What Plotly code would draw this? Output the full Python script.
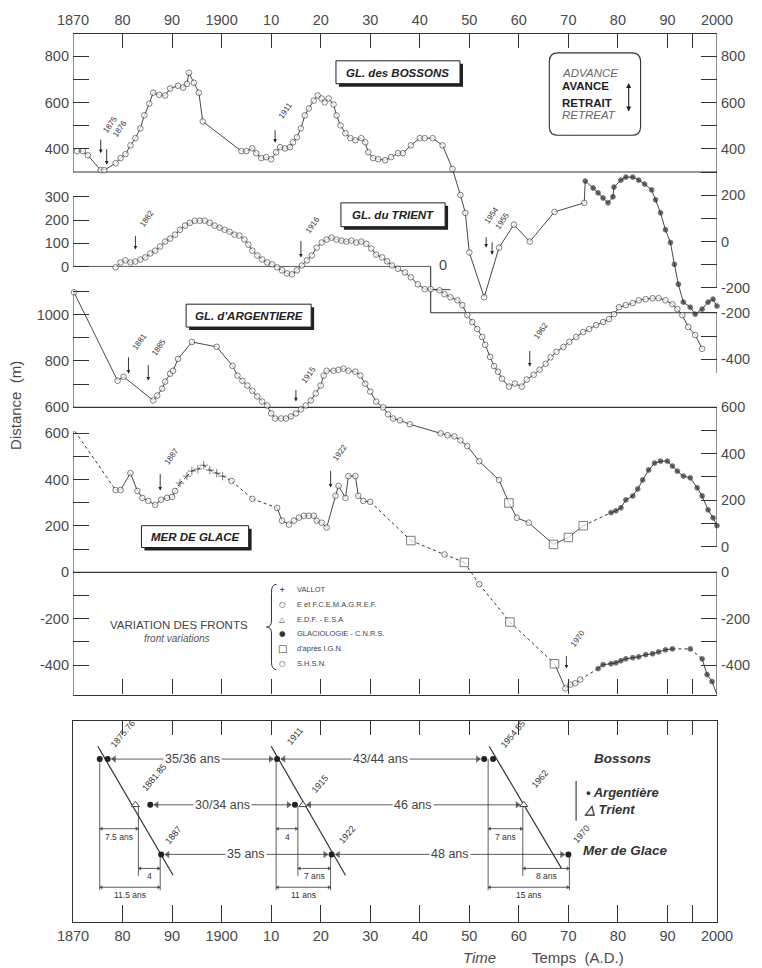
import numpy as np
import plotly.graph_objects as go

# ============================ DATA ============================
YEAR_TICKS = [1870, 1880, 1890, 1900, 1910, 1920, 1930, 1940, 1950, 1960, 1970, 1980, 1990, 2000, 1995]
YEAR_TICK_TEXT = ["1870", "80", "90", "1900", "10", "20", "30", "40", "50", "60", "70", "80", "90", "2000", ""]

# (year, front position in m)
BOSSONS = [(1870.8, 390), (1872.0, 390), (1873.0, 372), (1875.6, 308), (1876.3, 308), (1878.6, 338),
           (1879.6, 360), (1880.6, 377), (1881.6, 415), (1882.6, 446), (1883.6, 488), (1884.4, 544),
           (1885.4, 595), (1886.2, 642), (1887.4, 633), (1888.6, 630), (1889.6, 660), (1891.2, 672),
           (1892.2, 664), (1893.0, 680), (1893.4, 728), (1894.4, 685), (1895.4, 642), (1896.2, 518),
           (1904.0, 390), (1905.0, 390), (1906.2, 402), (1907.0, 381), (1908.0, 360), (1909.0, 364),
           (1910.0, 355), (1911.0, 385), (1911.8, 407), (1912.8, 402), (1913.8, 407), (1914.4, 428),
           (1915.2, 450), (1916.0, 488), (1916.8, 544), (1917.6, 574), (1918.6, 608), (1919.4, 630),
           (1920.2, 617), (1920.8, 600), (1921.6, 617), (1922.6, 591), (1923.2, 544), (1924.0, 501),
           (1925.0, 467), (1926.0, 446), (1927.0, 437), (1928.2, 446), (1929.0, 428), (1929.6, 385),
           (1930.6, 360), (1931.6, 355), (1933.0, 351), (1934.2, 364), (1935.6, 381), (1936.6, 381),
           (1938.2, 415), (1940.0, 446), (1941.0, 446), (1942.6, 446), (1944.6, 415), (1946.6, 313),
           (1948.2, 201), (1949.2, 124), (1950.0, -47), (1953.0, -240), (1956.0, -26), (1959.0, 73),
           (1962.2, 0), (1967.2, 128), (1973.2, 167), (1973.4, 261), (1975.0, 231), (1976.0, 210),
           (1977.0, 188), (1978.0, 167), (1979.0, 193), (1979.2, 235), (1980.6, 265), (1981.6, 278),
           (1983.0, 278), (1984.2, 265), (1985.4, 248), (1986.8, 223), (1987.6, 180), (1988.6, 124),
           (1989.6, 51), (1990.6, -4), (1991.4, -98), (1992.2, -184), (1993.2, -261), (1994.6, -283),
           (1995.6, -313), (1997.0, -291), (1998.2, -261), (1999.2, -248), (2000.0, -278)]

TRIENT = [(1878.6, -4), (1879.6, 17), (1880.6, 26), (1881.6, 17), (1882.6, 21), (1883.6, 30),
          (1884.6, 39), (1885.6, 56), (1886.6, 68), (1887.6, 86), (1888.6, 107), (1889.6, 120),
          (1890.6, 137), (1891.6, 158), (1892.6, 176), (1893.6, 188), (1894.6, 197), (1895.6, 197),
          (1896.6, 197), (1897.6, 188), (1898.6, 176), (1899.6, 167), (1900.6, 158), (1901.6, 150),
          (1902.6, 137), (1903.6, 133), (1904.6, 116), (1905.4, 94), (1906.2, 68), (1907.2, 47),
          (1908.2, 30), (1909.2, 17), (1910.2, 9), (1911.2, -4), (1912.2, -17), (1913.2, -30),
          (1914.2, -34), (1915.2, -17), (1916.2, 4), (1917.2, 26), (1918.2, 47), (1919.2, 81),
          (1920.2, 103), (1921.2, 116), (1922.2, 124), (1923.2, 116), (1924.2, 111), (1925.2, 107),
          (1926.2, 111), (1927.2, 103), (1928.2, 107), (1929.2, 98), (1930.2, 77), (1931.2, 51),
          (1932.4, 39), (1933.4, 22), (1934.4, 4), (1935.6, -10), (1937.0, -26), (1938.2, -47),
          (1939.6, -77), (1941.0, -98), (1942.2, -98), (1944.0, -103), (1945.0, -120), (1946.2, -133),
          (1947.6, -146), (1948.6, -167), (1949.6, -210), (1950.6, -240), (1951.6, -270), (1952.6, -304),
          (1953.2, -338), (1954.2, -390), (1955.0, -430), (1955.8, -454), (1956.6, -484), (1958.0, -518),
          (1959.2, -505), (1960.6, -518), (1961.6, -488), (1963.0, -467), (1964.2, -445), (1965.4, -420),
          (1966.4, -392), (1967.6, -368), (1969.0, -347), (1970.2, -325), (1971.6, -304), (1973.0, -283),
          (1974.2, -270), (1975.6, -253), (1977.0, -240), (1978.2, -227), (1979.2, -206), (1980.2, -176),
          (1981.6, -167), (1983.0, -158), (1984.2, -146), (1985.6, -141), (1987.0, -137), (1988.2, -137),
          (1989.6, -146), (1991.0, -163), (1992.0, -184), (1993.0, -210), (1994.2, -261), (1995.6, -296),
          (1997.0, -355)]

ARGENTIERE = [(1870.2, 1096), (1879.0, 715), (1880.2, 732), (1886.2, 630), (1887.0, 651), (1888.0, 681),
              (1888.6, 711), (1889.6, 745), (1890.2, 758), (1891.2, 809), (1894.0, 882), (1899.0, 861),
              (1902.2, 779), (1903.2, 737), (1904.2, 715), (1905.2, 694), (1906.2, 672), (1907.2, 647),
              (1908.2, 625), (1909.2, 608), (1910.0, 574), (1910.8, 552), (1912.0, 552), (1913.0, 552),
              (1914.0, 561), (1915.0, 574), (1916.0, 591), (1917.0, 608), (1918.0, 630), (1919.0, 660),
              (1920.0, 694), (1920.6, 737), (1921.2, 758), (1922.6, 758), (1923.6, 762), (1924.6, 767),
              (1925.6, 758), (1927.0, 754), (1928.0, 737), (1929.0, 702), (1930.0, 668), (1931.2, 625),
              (1932.6, 600), (1933.6, 570), (1934.6, 552), (1936.0, 544), (1938.0, 527), (1944.2, 488),
              (1945.6, 480), (1947.0, 475), (1948.2, 458), (1949.6, 433), (1952.0, 368), (1956.0, 287),
              (1958.0, 188), (1959.6, 124), (1962.0, 103), (1967.0, 9), (1970.0, 39), (1973.0, 90),
              (1978.6, 146), (1979.6, 154), (1980.6, 167), (1981.6, 201), (1983.0, 218), (1984.0, 248),
              (1985.0, 287), (1986.2, 330), (1987.4, 360), (1988.6, 368), (1990.0, 368), (1991.0, 347),
              (1992.0, 325), (1993.2, 304), (1994.6, 296), (1996.0, 253), (1997.0, 218), (1998.2, 158),
              (1999.2, 124), (2000.0, 90)]

MER_DE_GLACE = [(1870.4, 608), (1878.6, 355), (1879.6, 355), (1881.6, 428), (1883.0, 351), (1884.0, 321),
                (1885.2, 308), (1886.6, 291), (1887.8, 313), (1889.0, 321), (1890.0, 325), (1890.6, 351),
                (1891.6, 385), (1893.0, 415), (1894.0, 437), (1895.2, 445), (1896.4, 462), (1897.6, 441),
                (1899.0, 428), (1900.2, 415), (1902.0, 394), (1906.2, 317), (1911.2, 278), (1912.2, 223),
                (1913.6, 206), (1914.6, 223), (1915.6, 236), (1916.6, 244), (1917.6, 244), (1918.6, 244),
                (1919.2, 223), (1920.2, 214), (1921.2, 193), (1923.0, 330), (1923.6, 373), (1925.0, 321),
                (1925.6, 415), (1927.0, 415), (1927.6, 330), (1928.6, 308), (1930.0, 304), (1938.2, 137),
                (1945.0, 77), (1949.0, 43), (1952.0, -51), (1958.2, -214), (1967.2, -394), (1969.4, -500),
                (1970.4, -484), (1971.4, -478), (1972.4, -462), (1976.0, -415), (1977.0, -398),
                (1978.6, -394), (1979.6, -390), (1980.6, -381), (1981.6, -373), (1983.0, -368),
                (1984.2, -364), (1985.6, -355), (1987.0, -351), (1988.2, -343), (1989.6, -334),
                (1991.0, -330), (1994.6, -330), (1997.0, -373), (1998.0, -441), (1999.0, -471),
                (2000.0, -527)]

# measurement sources
CNRS_FROM = {"B": 1973.4, "T": 9999, "A": 1978.6, "M": 1976.0}
IGN_YEARS = {"B": [], "T": [], "A": [1958.0, 1967.0, 1970.0, 1973.0], "M": [1938.2, 1949.0, 1958.2, 1967.2]}
VALLOT_YEARS = {"B": [], "T": [], "A": [],
                "M": [1891.6, 1893.0, 1894.0, 1895.2, 1896.4, 1897.6, 1899.0, 1900.2]}
UNMARKED_YEARS = {"B": [], "T": [], "A": [], "M": [1870.4]}

# arrows with dates in the main panel: (glacier, year, label)
EVENTS = [("B", 1875.6, "1875"), ("B", 1876.8, "1876"), ("B", 1910.8, "1911"),
          ("T", 1882.6, "1882"), ("T", 1916.0, "1916"),
          ("B", 1953.4, "1954"), ("B", 1954.6, "1955"),
          ("A", 1881.2, "1881"), ("A", 1885.2, "1885"), ("A", 1915.0, "1915"),
          ("T", 1962.2, "1962"),
          ("M", 1887.6, "1887"), ("M", 1922.0, "1922"), ("M", 1969.6, "1970")]

LEGEND_SOURCES = [("+", "VALLOT"), ("○", "E et F.C.E.M.A.G.R.E.F."), ("△", "E.D.F. - E.S.A"),
                  ("●", "GLACIOLOGIE - C.N.R.S."), ("□", "d'après I.G.N."), ("○", "S.H.S.N.")]

# lower panel: minima of the fronts and time lags
BOSSONS_MIN = [[1875.4, 1877.0], [1911.2], [1953.0, 1954.8]]
BOSSONS_MIN_LABEL = ["1875.76", "1911", "1954.55"]
ARGENTIERE_MIN = [1885.6, 1914.8]
TRIENT_MIN = [1882.6, 1916.4, 1961.0]
MID_MIN_LABEL = ["1881.85", "1915", "1962"]
MDG_MIN = [1887.8, 1922.2, 1970.0]
MDG_MIN_LABEL = ["1887", "1922", "1970"]
INTERVAL_B = ["35/36 ans", "43/44 ans"]
INTERVAL_AT = ["30/34 ans", "46 ans"]
INTERVAL_M = ["35 ans", "48 ans"]
LAG_REF_B = [1875.4, 1911.0, 1953.8]
LAG_REF_AT = [1883.2, 1915.4, 1960.8]
LAG_REF_M = [1887.6, 1922.0, 1970.2]
LAG_1 = ["7.5 ans", "4", "7 ans"]
LAG_2 = ["4", "7 ans", "8 ans"]
LAG_TOTAL = ["11.5 ans", "11 ans", "15 ans"]
TREND_START = [1875.0, 1910.0, 1954.0]
TREND_END = [1890.2, 1925.0, 1968.6]

# ============================ LAYOUT CONSTANTS ============================
W, H = 762, 968
ML, MR, MT, MB = 73, 40, 28, 46
PW, PH = W - ML - MR, H - MT - MB
FONT = "Liberation Sans, Arial, Helvetica, sans-serif"
INK = "#333333"
TXT = "#4a4a4a"


def fx(px):
    return (px - ML) / PW


def fy(py):
    return (H - MB - py) / PH


MAIN_TOP_PX, MAIN_BOT_PX, LOW_TOP_PX = 28, 693, 720
MAIN_DOMAIN = [fy(MAIN_BOT_PX), 1.0]
LOW_DOMAIN = [0.0, fy(LOW_TOP_PX)]
SCALE = 0.2335  # px per metre
ZERO_PX = {"B": 237, "T": 262, "A": 544, "M": 570}
AX = {"B": ("y", "y2"), "T": ("y3", "y4"), "A": ("y5", "y6"), "M": ("y7", "y8")}
SERIES = {"B": BOSSONS, "T": TRIENT, "A": ARGENTIERE, "M": MER_DE_GLACE}


def yrange(g):
    p0 = ZERO_PX[g]
    return [(p0 - MAIN_BOT_PX) / SCALE, (p0 - MAIN_TOP_PX) / SCALE]


MARK = {"C": ("circle", 5.6, "white"), "G": ("circle", 4.8, "#2a2a2a"),
        "I": ("square", 8.5, "white"), "V": ("cross-thin", 6, "#2a2a2a")}


def has(lst, y):
    return any(abs(y - v) < 1e-6 for v in lst)


def source(g, y):
    if has(UNMARKED_YEARS[g], y):
        return "N"
    if has(IGN_YEARS[g], y):
        return "I"
    if has(VALLOT_YEARS[g], y):
        return "V"
    if y >= CNRS_FROM[g] - 1e-6:
        return "G"
    return "C"


fig = go.Figure()

# ---------------- main panel series ----------------
for g, pts in SERIES.items():
    yrs = [p[0] for p in pts]
    vals = [p[1] for p in pts]
    src = [source(g, y) for y in yrs]
    sx, sy, dx, dy = [], [], [], []
    for i in range(len(yrs) - 1):
        gap = yrs[i + 1] - yrs[i]
        dotted = ("V" in (src[i], src[i + 1])) or \
                 (g == "M" and gap > 2.3) or \
                 (gap > 2.3 and src[i + 1] == "G" and src[i] != "G")
        tx, ty = (dx, dy) if dotted else (sx, sy)
        tx += [yrs[i], yrs[i + 1], None]
        ty += [vals[i], vals[i + 1], None]
    fig.add_trace(go.Scatter(x=sx, y=sy, mode="lines", line=dict(color=INK, width=0.9),
                             xaxis="x", yaxis=AX[g][0], hoverinfo="skip"))
    fig.add_trace(go.Scatter(x=dx, y=dy, mode="lines", line=dict(color=INK, width=1.0, dash="dot"),
                             xaxis="x", yaxis=AX[g][0], hoverinfo="skip"))
    mk = [(y, v, s) for y, v, s in zip(yrs, vals, src) if s != "N"]
    fig.add_trace(go.Scatter(
        x=[m[0] for m in mk], y=[m[1] for m in mk], mode="markers", cliponaxis=False,
        marker=dict(symbol=[MARK[m[2]][0] for m in mk], size=[MARK[m[2]][1] for m in mk],
                    color=[MARK[m[2]][2] for m in mk], line=dict(color=INK, width=0.9)),
        xaxis="x", yaxis=AX[g][0], hoverinfo="skip"))

# dummy traces so that every overlaying axis exists
for xa, ya in [("x", "y2"), ("x", "y4"), ("x", "y6"), ("x", "y8"), ("x2", "y"), ("x4", "y9")]:
    fig.add_trace(go.Scatter(x=[], y=[], xaxis=xa, yaxis=ya, hoverinfo="skip"))

# ---------------- lower panel ----------------
ROW_B, ROW_AT, ROW_M = 8.12, 5.84, 3.37
DIM1, DIM2, DIM3 = 4.65, 2.67, 1.73
VBOT_OUT, VBOT_MID = 1.58, 2.3
TREND_TOP, TREND_BOT = 8.76, [2.33, 2.33, 2.67]

thin_x, thin_y = [], []
trend_x, trend_y = [], []
for gi in range(3):
    trend_x += [TREND_START[gi], TREND_END[gi], None]
    trend_y += [TREND_TOP, TREND_BOT[gi], None]
    for xv, y0, y1 in [(LAG_REF_B[gi], ROW_B, VBOT_OUT), (LAG_REF_AT[gi], ROW_AT - 0.1, VBOT_MID),
                       (LAG_REF_M[gi], ROW_M, VBOT_OUT)]:
        thin_x += [xv, xv, None]
        thin_y += [y0, y1, None]

dims = []
for gi in range(3):
    dims.append((LAG_REF_B[gi], LAG_REF_AT[gi], DIM1, LAG_1[gi]))
    dims.append((LAG_REF_AT[gi], LAG_REF_M[gi], DIM2, LAG_2[gi]))
    dims.append((LAG_REF_B[gi], LAG_REF_M[gi], DIM3, LAG_TOTAL[gi]))

intervals = []
mid_groups = [[TRIENT_MIN[0], ARGENTIERE_MIN[0]], [ARGENTIERE_MIN[1], TRIENT_MIN[1]], [TRIENT_MIN[2]]]
for row_y, groups, labels in [(ROW_B, BOSSONS_MIN, INTERVAL_B), (ROW_AT, mid_groups, INTERVAL_AT),
                              (ROW_M, [[v] for v in MDG_MIN], INTERVAL_M)]:
    for gi in range(2):
        intervals.append((max(groups[gi]) + 0.8, min(groups[gi + 1]) - 0.8, row_y, labels[gi]))

for (a, b, yv, _) in dims:
    thin_x += [a, b, None]
    thin_y += [yv, yv, None]
for (a, b, yv, _) in intervals:
    thin_x += [a, b, None]
    thin_y += [yv, yv, None]

fig.add_trace(go.Scatter(x=thin_x, y=thin_y, mode="lines", line=dict(color=INK, width=0.8),
                         xaxis="x3", yaxis="y9", hoverinfo="skip"))
fig.add_trace(go.Scatter(x=trend_x, y=trend_y, mode="lines", line=dict(color=INK, width=1.2),
                         xaxis="x3", yaxis="y9", hoverinfo="skip"))
# arrowheads
ah_x, ah_y, ah_s, ah_z = [], [], [], []
for (a, b, yv, _) in dims:
    ah_x += [a + 0.35, b - 0.35]; ah_y += [yv, yv]; ah_s += ["triangle-left", "triangle-right"]; ah_z += [4, 4]
for (a, b, yv, _) in intervals:
    ah_x += [a + 0.5, b - 0.5]; ah_y += [yv, yv]; ah_s += ["triangle-left", "triangle-right"]; ah_z += [6.5, 6.5]
fig.add_trace(go.Scatter(x=ah_x, y=ah_y, mode="markers", xaxis="x3", yaxis="y9", hoverinfo="skip",
                         marker=dict(symbol=ah_s, size=ah_z, color=INK, line=dict(width=0))))
# minima markers
dot_x = [v for grp in BOSSONS_MIN for v in grp] + ARGENTIERE_MIN + MDG_MIN
dot_y = [ROW_B] * sum(len(g_) for g_ in BOSSONS_MIN) + [ROW_AT] * len(ARGENTIERE_MIN) + [ROW_M] * len(MDG_MIN)
fig.add_trace(go.Scatter(x=dot_x, y=dot_y, mode="markers", xaxis="x3", yaxis="y9", hoverinfo="skip",
                         marker=dict(symbol="circle", size=6, color="#222")))
fig.add_trace(go.Scatter(x=TRIENT_MIN, y=[ROW_AT] * len(TRIENT_MIN), mode="markers", xaxis="x3",
                         yaxis="y9", hoverinfo="skip",
                         marker=dict(symbol="triangle-up", size=7, color="white", line=dict(color=INK, width=0.9))))

# ---------------- shapes ----------------
shapes = []


def seg(x0, x1, y0, y1, yref, w=1.1, xref="x"):
    shapes.append(dict(type="line", xref=xref, yref=yref, x0=x0, x1=x1, y0=y0, y1=y1,
                       line=dict(color=INK, width=w), layer="below"))


rB, rT, rA, rM = yrange("B"), yrange("T"), yrange("A"), yrange("M")
TRIENT_STEP_YEAR = 1942.2
seg(1870, 1870, 300, rB[1], "y")
seg(1870, 1870, 0, 300, "y3")
seg(1870, 1870, 600, 1100, "y5")
seg(1870, 1870, rM[0], 610, "y7")
seg(2000, 2000, -200, rB[1], "y")
seg(2000, 2000, -460, -200, "y3")
seg(2000, 2000, 0, 600, "y5")
seg(2000, 2000, rM[0], 0, "y7")
seg(1870, 2000, 300, 300, "y")
seg(1870, 2000, 600, 600, "y5")
seg(1870, 2000, 0, 0, "y7")
seg(1870, TRIENT_STEP_YEAR, 0, 0, "y3", w=0.8)
seg(TRIENT_STEP_YEAR, TRIENT_STEP_YEAR, -200, 0, "y3")
seg(TRIENT_STEP_YEAR, 2000, -200, -200, "y3")
seg(TRIENT_STEP_YEAR, TRIENT_STEP_YEAR + 4, -100, -100, "y3", w=0.9)


def prect(x0, y0, x1, y1, fill, line_w):
    shapes.append(dict(type="rect", xref="paper", yref="paper", x0=fx(x0), x1=fx(x1), y0=fy(y1), y1=fy(y0),
                       fillcolor=fill, line=dict(color="#222", width=line_w), layer="above"))


NAME_BOXES = [("GL. des BOSSONS", 338, 55, 463, 78), ("GL. du TRIENT", 343, 198, 448, 222),
              ("GL. d'ARGENTIERE", 187, 300, 313, 323), ("MER DE GLACE", 142, 523, 250, 545)]
for _, x0, y0, x1, y1 in NAME_BOXES:
    prect(x0 + 3, y0 + 3, x1 + 3, y1 + 3, "#222", 0)
    prect(x0, y0, x1, y1, "white", 1)


def rounded_path(x0, y0, x1, y1, r):
    P = lambda x, y: f"{fx(x):.5f},{fy(y):.5f}"
    return (f"M {P(x0 + r, y0)} L {P(x1 - r, y0)} Q {P(x1, y0)} {P(x1, y0 + r)} "
            f"L {P(x1, y1 - r)} Q {P(x1, y1)} {P(x1 - r, y1)} L {P(x0 + r, y1)} "
            f"Q {P(x0, y1)} {P(x0, y1 - r)} L {P(x0, y0 + r)} Q {P(x0, y0)} {P(x0 + r, y0)} Z")


shapes.append(dict(type="path", xref="paper", yref="paper", path=rounded_path(553, 47, 645, 130, 9),
                   line=dict(color=INK, width=1.1)))
P = lambda x, y: f"{fx(x):.5f},{fy(y):.5f}"
brace = (f"M {P(278, 582)} Q {P(273, 582)} {P(273, 590)} L {P(273, 619)} Q {P(273, 625)} {P(268, 625)} "
         f"Q {P(273, 625)} {P(273, 631)} L {P(273, 660)} Q {P(273, 668)} {P(278, 668)}")
shapes.append(dict(type="path", xref="paper", yref="paper", path=brace,
                   line=dict(color=INK, width=1.0), fillcolor="rgba(0,0,0,0)"))
shapes.append(dict(type="line", xref="paper", yref="paper", x0=fx(580), x1=fx(580), y0=fy(780), y1=fy(820),
                   line=dict(color=INK, width=1.1)))

# ---------------- annotations ----------------
ann = []


def ptext(px, py, text, size, color=TXT, xanchor="center", angle=0, family=FONT):
    ann.append(dict(x=fx(px), y=fy(py), xref="paper", yref="paper", text=text, showarrow=False,
                    xanchor=xanchor, yanchor="middle", textangle=angle,
                    font=dict(size=size, color=color, family=family)))


for text, x0, y0, x1, y1 in NAME_BOXES:
    ptext((x0 + x1) / 2, (y0 + y1) / 2 + 0.5, f"<b><i>{text}</i></b>", 11.5, "#222")

# advance / retreat box
ptext(564, 67, "<i>ADVANCE</i>", 11.5, "#666", "left")
ptext(564, 80, "<b>AVANCE</b>", 11.5, "#222", "left")
ptext(564, 97, "<b>RETRAIT</b>", 11.5, "#222", "left")
ptext(564, 110, "<i>RETREAT</i>", 11.5, "#666", "left")
ann.append(dict(x=fx(633), y=fy(106), xref="paper", yref="paper", ax=0, ay=-30, text="", showarrow=True,
                arrowside="end+start", arrowhead=2, arrowsize=0.9, arrowwidth=1.1, arrowcolor="#222"))

# legend of sources
ptext(180, 623, "VARIATION DES FRONTS", 11.5, "#444")
ptext(178, 637, "<i>front variations</i>", 10, "#555")
for i, (glyph, label) in enumerate(LEGEND_SOURCES):
    yy = 587 + i * 15
    ptext(284, yy, glyph, 10 if glyph == "□" else 7.5, "#333", "center", family="DejaVu Sans")
    ptext(297, yy, label, 7.5, "#444", "left")

# axis titles
ptext(15, 402, "Distance  (m)", 15, TXT, "center", angle=-90)
ptext(483, 958, "<i>Time</i>", 15, TXT)
ptext(582, 958, "Temps  (A.D.)", 15, TXT)

# "0" of the Trient step
ann.append(dict(x=TRIENT_STEP_YEAR, y=0, xref="x", yref="y3", text="0", showarrow=False, xanchor="left",
                xshift=6, yshift=1, font=dict(size=14.5, color=TXT, family=FONT)))

# dated arrows in the main panel: (standoff, length, text dx, text gap)
EVENT_LAYOUT = [(17, 15, -2, 1), (4, 17, 2, 6), (11, 14, -1, 5), (12, 15, 0, 3), (9, 18, 0, 1),
                (43, 12, -6, 7), (16, 14, -2, 7), (7, 18, 0, 1), (16, 17, -1, 3), (12, 13, 1, 0),
                (11, 17, 0, 6), (10, 18, 0, 3), (26, 18, -2, 4), (19, 14, 0, 3)]
for (g, yr, lab), (s, l, tdx, gap) in zip(EVENTS, EVENT_LAYOUT):
    pts = SERIES[g]
    val = float(np.interp(yr, [p[0] for p in pts], [p[1] for p in pts]))
    ann.append(dict(x=yr, y=val, xref="x", yref=AX[g][0], ax=0, ay=-(s + l), text="", showarrow=True,
                    standoff=s, arrowhead=2, arrowsize=0.8, arrowwidth=0.9, arrowcolor="#222"))
    ann.append(dict(x=yr, y=val, xref="x", yref=AX[g][0], text=lab, showarrow=False, textangle=-55,
                    xanchor="left", yanchor="bottom", xshift=tdx, yshift=s + l + gap,
                    font=dict(size=8, color="#333", family=FONT)))

# lower panel labels
for (a, b, yv, lab) in intervals:
    ann.append(dict(x=(a + b) / 2, y=yv, xref="x3", yref="y9", text=lab, showarrow=False, bgcolor="white",
                    borderpad=1, font=dict(size=12.5, color="#444", family=FONT)))
for (a, b, yv, lab) in dims:
    ann.append(dict(x=(a + b) / 2, y=yv, xref="x3", yref="y9", text=lab, showarrow=False, yanchor="top",
                    yshift=-1, font=dict(size=8.5, color="#333", family=FONT)))
LOW_LABEL_SHIFT = {"B": [(6, 6), (6, 10), (8, 6)], "AT": [(-1, 9), (9, 7), (4, 12)], "M": [(0, 6), (3, 6), (-1, 7)]}
for key, refs, row_y, labels in [("B", LAG_REF_B, ROW_B, BOSSONS_MIN_LABEL),
                                 ("AT", LAG_REF_AT, ROW_AT, MID_MIN_LABEL),
                                 ("M", LAG_REF_M, ROW_M, MDG_MIN_LABEL)]:
    for gi in range(3):
        sx_, sy_ = LOW_LABEL_SHIFT[key][gi]
        ann.append(dict(x=refs[gi], y=row_y, xref="x3", yref="y9", text=labels[gi], showarrow=False,
                        textangle=-50, xanchor="left", yanchor="bottom", xshift=sx_, yshift=sy_,
                        font=dict(size=9, color="#333", family=FONT)))
ptext(627, 757, "<b><i>Bossons</i></b>", 13.5, "#333")
ptext(588, 792, "<b><i>• Argentière</i></b>", 13, "#333", "left")
ptext(586, 809, "<b><i>△ Trient</i></b>", 13, "#333", "left")
ptext(585, 850, "<b><i>Mer de Glace</i></b>", 13.5, "#333", "left")

# ---------------- axes ----------------
tickfont = dict(size=14.5, color=TXT, family=FONT)
common_y = dict(showgrid=False, zeroline=False, showline=False, ticks="inside", ticklen=16, tickwidth=1,
                tickcolor=INK, tickfont=tickfont, fixedrange=True, tickmode="array", ticklabelstandoff=3)
LEFT_TICKS = {"B": ([400, 500, 600, 700, 800], [400, 600, 800]),
              "T": ([0, 100, 200, 300], [0, 100, 200, 300]),
              "A": ([600, 700, 800, 900, 1000, 1100], [600, 800, 1000]),
              "M": ([-400, -300, -200, -100, 0, 100, 200, 300, 400, 500, 600], [-400, -200, 0, 200, 400, 600])}
RIGHT_TICKS = {"B": ([-200, -100, 0, 100, 200, 300, 400, 500, 600, 700, 800], [-200, 0, 200, 400, 600, 800]),
               "T": ([-200, -300, -400], [-200, -400]),
               "A": ([0, 100, 200, 300, 400, 500, 600], [0, 200, 400, 600]),
               "M": ([-400, -300, -200, -100, 0], [-400, -200, 0])}

lay = {}
for g in "BTAM":
    left, right = AX[g]
    for name, side, ticks in [(left, "left", LEFT_TICKS[g]), (right, "right", RIGHT_TICKS[g])]:
        key = "yaxis" if name == "y" else "yaxis" + name[1:]
        d = dict(common_y, range=yrange(g), anchor="x", side=side, domain=MAIN_DOMAIN,
                 tickvals=ticks[0], ticktext=[str(v) if v in ticks[1] else "" for v in ticks[0]])
        if name != "y":
            d["overlaying"] = "y"
        lay[key] = d

common_x = dict(range=[1870, 2000], showgrid=False, zeroline=False, tickmode="array", tickvals=YEAR_TICKS,
                ticktext=YEAR_TICK_TEXT, ticks="inside", tickwidth=1, tickcolor=INK, showline=True,
                linecolor=INK, linewidth=1.1, tickfont=tickfont, fixedrange=True)
lay["xaxis"] = dict(common_x, domain=[0, 1], anchor="y", side="top", ticklen=14, ticklabelstandoff=2)
lay["xaxis2"] = dict(common_x, overlaying="x", anchor="y", side="bottom", ticklen=15, showticklabels=False)
lay["xaxis3"] = dict(common_x, domain=[0, 1], anchor="y9", side="bottom", ticklen=17, ticklabelstandoff=1)
lay["xaxis4"] = dict(common_x, overlaying="x3", anchor="y9", side="top", ticklen=14, showticklabels=False)
lay["yaxis9"] = dict(domain=LOW_DOMAIN, range=[0, 10], anchor="x3", showline=True, mirror=True,
                     linecolor=INK, linewidth=1.1, ticks="", showticklabels=False, showgrid=False,
                     zeroline=False, fixedrange=True)

fig.update_layout(**lay)
fig.update_layout(width=W, height=H, autosize=False, margin=dict(l=ML, r=MR, t=MT, b=MB, pad=0),
                  paper_bgcolor="white", plot_bgcolor="white", showlegend=False,
                  font=dict(family=FONT, color=TXT), shapes=shapes, annotations=ann)

fig.write_html("out.html", config={"displayModeBar": False},
               post_script="document.body.style.margin='0';document.body.style.padding='0';")
